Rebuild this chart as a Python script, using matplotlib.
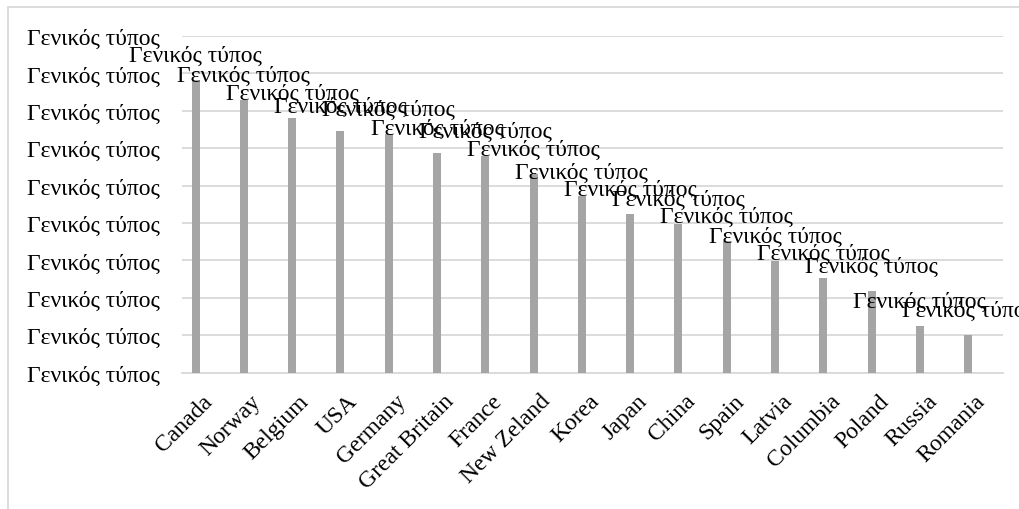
import matplotlib.pyplot as plt
from matplotlib.patches import Rectangle

plt.rcParams['font.family'] = ['Liberation Serif', 'DejaVu Serif']

countries = ["Canada", "Norway", "Belgium", "USA", "Germany", "Great Britain",
             "France", "New Zeland", "Korea", "Japan", "China", "Spain",
             "Latvia", "Columbia", "Poland", "Russia", "Romania"]
values = [7.82, 7.29, 6.82, 6.47, 6.37, 5.88, 5.79, 5.32, 4.71, 4.23,
          3.98, 3.53, 2.98, 2.53, 2.19, 1.25, 1.01]
y_ticks = list(range(10))
label_text = "Γενικός τύπος"

fig = plt.figure(figsize=(10.2, 5.1), dpi=100)
ax = fig.add_axes([182 / 1020, 1 - 373.5 / 510, (1003 - 182) / 1020, (373.5 - 37) / 510])

x = list(range(len(countries)))
ax.bar(x, values, width=0.165, color='#a5a5a5', zorder=3)

# value labels above each bar
for xi, v in zip(x, values):
    ax.annotate(label_text, (xi, v), xytext=(0, 13.7), textcoords='offset points',
                ha='center', va='baseline', fontsize=17, color='black',
                annotation_clip=False, zorder=4)

# rotated category labels under the axis
for xi, name in zip(x, countries):
    ax.annotate(name, (xi, 0), xytext=(10, -18), textcoords='offset points',
                rotation=45, rotation_mode='anchor', ha='right', va='center',
                fontsize=17, color='black', annotation_clip=False)

ax.set_xlim(-0.28, 16.72)
ax.set_ylim(0, 9)
ax.set_xticks(x)
ax.set_xticklabels([])
ax.set_yticks(y_ticks)
ax.set_yticklabels([label_text] * len(y_ticks), fontsize=17)
ax.grid(axis='y', color='#d9d9d9', linewidth=1.3, zorder=0)
ax.set_axisbelow(True)

ax.tick_params(axis='both', length=0)
ax.tick_params(axis='y', pad=16)
for side in ['top', 'right', 'left']:
    ax.spines[side].set_visible(False)
ax.spines['bottom'].set_color('#d9d9d9')
ax.spines['bottom'].set_linewidth(1.3)

# light chart-area frame
fig.patches.append(Rectangle((8 / 1020, -0.2), 1.5, 1.2 - 8 / 510, transform=fig.transFigure,
                             fill=False, edgecolor='#d9d9d9', linewidth=1.3))

fig.savefig('out.png', dpi=100)
